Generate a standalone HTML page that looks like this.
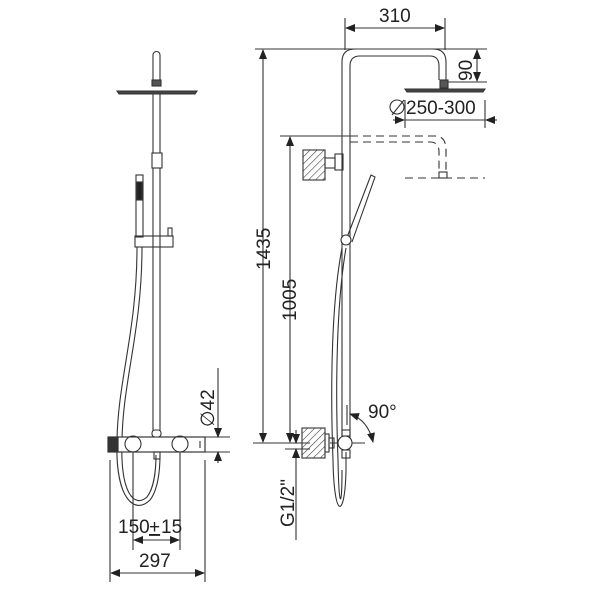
<!DOCTYPE html>
<html><head><style>body{margin:0;background:#fff}svg{display:block}text{font-family:"Liberation Sans",sans-serif;fill:#222}</style></head><body>
<svg width="600" height="600" viewBox="0 0 600 600" xmlns="http://www.w3.org/2000/svg">
<defs>
<marker id="a" markerWidth="10" markerHeight="8" refX="9" refY="4" orient="auto-start-reverse" markerUnits="userSpaceOnUse"><path d="M0,0 L10,4 L0,8 z" fill="#222"/></marker>
<pattern id="h" width="5" height="5" patternUnits="userSpaceOnUse" patternTransform="rotate(45)"><line x1="0" y1="0" x2="0" y2="5" stroke="#444" stroke-width="1.2"/></pattern>
</defs>
<g fill="none" stroke="#333" stroke-width="1.1">
<!-- LEFT VIEW -->
<path d="M153,80 V55 a3.5,3.5 0 0 1 7,0 V80"/>
<rect x="152" y="80" width="9" height="6" fill="#555"/>
<path d="M117,91 H197 L195,94 H119 Z" fill="#444"/>
<line x1="153" y1="94" x2="153" y2="153"/><line x1="160" y1="94" x2="160" y2="153"/>
<rect x="152" y="153" width="10" height="15"/>
<line x1="153" y1="168" x2="153" y2="437"/><line x1="160" y1="168" x2="160" y2="432"/>
<rect x="136" y="175" width="7" height="62"/><rect x="137" y="182" width="5" height="18" fill="#222"/>
<rect x="135" y="236" width="38" height="11"/><rect x="168" y="228" width="4" height="8"/>
<path d="M137,247 C137,330 118,380 117,440 C115,500 135,515 150,500 C158,490 160,470 160,455"/>
<path d="M142,247 C142,330 123,380 122,440 C120,495 135,508 147,497 C154,488 156,470 156,455"/>
<rect x="108" y="437" width="97" height="15" fill="#fff"/>
<rect x="108" y="437" width="10" height="15" fill="#333"/>
<circle cx="133" cy="444" r="8" fill="#fff"/><circle cx="180" cy="444" r="8" fill="#fff"/>
<rect x="118" y="437" width="87" height="15" fill="none"/>
<rect x="152" y="430" width="9" height="7" rx="3" fill="#fff"/>
<rect x="154" y="452" width="6" height="7"/>
<line x1="200" y1="441" x2="200" y2="448"/>
<line x1="133" y1="452" x2="133" y2="550"/><line x1="180" y1="452" x2="180" y2="550"/>
<line x1="134" y1="540" x2="179" y2="540" marker-start="url(#a)" marker-end="url(#a)"/>
<line x1="110" y1="460" x2="110" y2="582"/><line x1="205" y1="460" x2="205" y2="582"/>
<line x1="111" y1="573" x2="204" y2="573" marker-start="url(#a)" marker-end="url(#a)"/>
<line x1="205" y1="437" x2="230" y2="437"/><line x1="205" y1="452" x2="230" y2="452"/>
<line x1="218" y1="368" x2="218" y2="437" marker-end="url(#a)"/>
<line x1="218" y1="463" x2="218" y2="452" marker-end="url(#a)"/>
<!-- RIGHT VIEW -->
<path d="M342,440 V62 Q342,49 355,49 H433 Q446,49 446,62 V80"/>
<path d="M350,440 V66 Q350,56 360,56 H430 Q439,56 439,66 V80"/>
<rect x="440" y="80" width="8" height="8" fill="#555"/>
<path d="M405,89 H485 L483,92 H407 Z" fill="#444"/>
<g stroke-dasharray="8,5"><path d="M350,136 H435 Q446,136 446,150 V172"/><path d="M350,142 H430 Q439,142 439,152 V172"/><path d="M405,178 H485"/></g>
<rect x="439" y="172" width="8" height="6"/>
<rect x="303" y="150" width="22" height="30" fill="url(#h)"/>
<rect x="325" y="158" width="10" height="10"/><rect x="335" y="154" width="8" height="16"/>
<path d="M346,240 L371,175 L375,177 L352,242"/><circle cx="346" cy="240" r="5" fill="#fff"/>
<path d="M342,248 C332,300 330,380 333,460 C334,520 345,520 346,470 L346,452"/>
<path d="M346,248 C337,300 335,380 338,460 C339,510 342,510 342,470"/>
<rect x="302" y="428" width="23" height="30" fill="url(#h)"/>
<rect x="325" y="434" width="4" height="18"/><rect x="329" y="438" width="5" height="10"/>
<line x1="330" y1="443" x2="365" y2="443"/>
<circle cx="345" cy="443" r="7" fill="#fff"/>
<rect x="342" y="430" width="8" height="6"/><rect x="342" y="450" width="8" height="8"/>
<line x1="347" y1="405" x2="347" y2="425"/>
<path d="M350,414 Q368,420 373,442" marker-start="url(#a)" marker-end="url(#a)"/>
<!-- dims -->
<line x1="345" y1="18" x2="345" y2="50"/><line x1="445" y1="18" x2="445" y2="50"/>
<line x1="346" y1="28" x2="444" y2="28" marker-start="url(#a)" marker-end="url(#a)"/>
<line x1="255" y1="49" x2="487" y2="49"/><line x1="448" y1="82" x2="487" y2="82"/>
<line x1="477" y1="50" x2="477" y2="81" marker-start="url(#a)" marker-end="url(#a)"/>
<line x1="405" y1="100" x2="405" y2="128"/><line x1="485" y1="100" x2="485" y2="128"/>
<line x1="393" y1="120" x2="404" y2="120" marker-end="url(#a)"/>
<line x1="405" y1="120" x2="485" y2="120"/>
<line x1="497" y1="120" x2="486" y2="120" marker-end="url(#a)"/>
<line x1="263" y1="50" x2="263" y2="442" marker-start="url(#a)" marker-end="url(#a)"/>
<line x1="280" y1="136" x2="350" y2="136"/>
<line x1="290" y1="137" x2="290" y2="442" marker-start="url(#a)" marker-end="url(#a)"/>
<line x1="253" y1="443" x2="310" y2="443"/><line x1="285" y1="449" x2="310" y2="449"/>
<line x1="296" y1="430" x2="296" y2="443" marker-end="url(#a)"/>
<line x1="296" y1="540" x2="296" y2="449" marker-end="url(#a)"/>
<line x1="404" y1="100" x2="392" y2="115"/>
</g>
<circle cx="397" cy="107" r="7" fill="none" stroke="#333" stroke-width="1.1"/>
<text x="406" y="114" font-size="19">250-300</text>
<text x="379" y="22" font-size="19">310</text>
<text x="0" y="0" font-size="19" transform="translate(472,81) rotate(-90)">90</text>
<text x="0" y="0" font-size="19" transform="translate(270,270) rotate(-90)">1435</text>
<text x="0" y="0" font-size="19" transform="translate(296,321) rotate(-90)">1005</text>
<text x="0" y="0" font-size="19" transform="translate(294,527) rotate(-90)">G1/2"</text>
<text x="368" y="418" font-size="19">90°</text>
<text x="0" y="0" font-size="19" transform="translate(214,427) rotate(-90)">∅42</text>
<text x="118" y="533" font-size="19">150</text><text x="149" y="533" font-size="19" text-decoration="underline">+</text><text x="161" y="533" font-size="19">15</text>
<text x="139" y="567" font-size="19">297</text>
</svg>
</body></html>
